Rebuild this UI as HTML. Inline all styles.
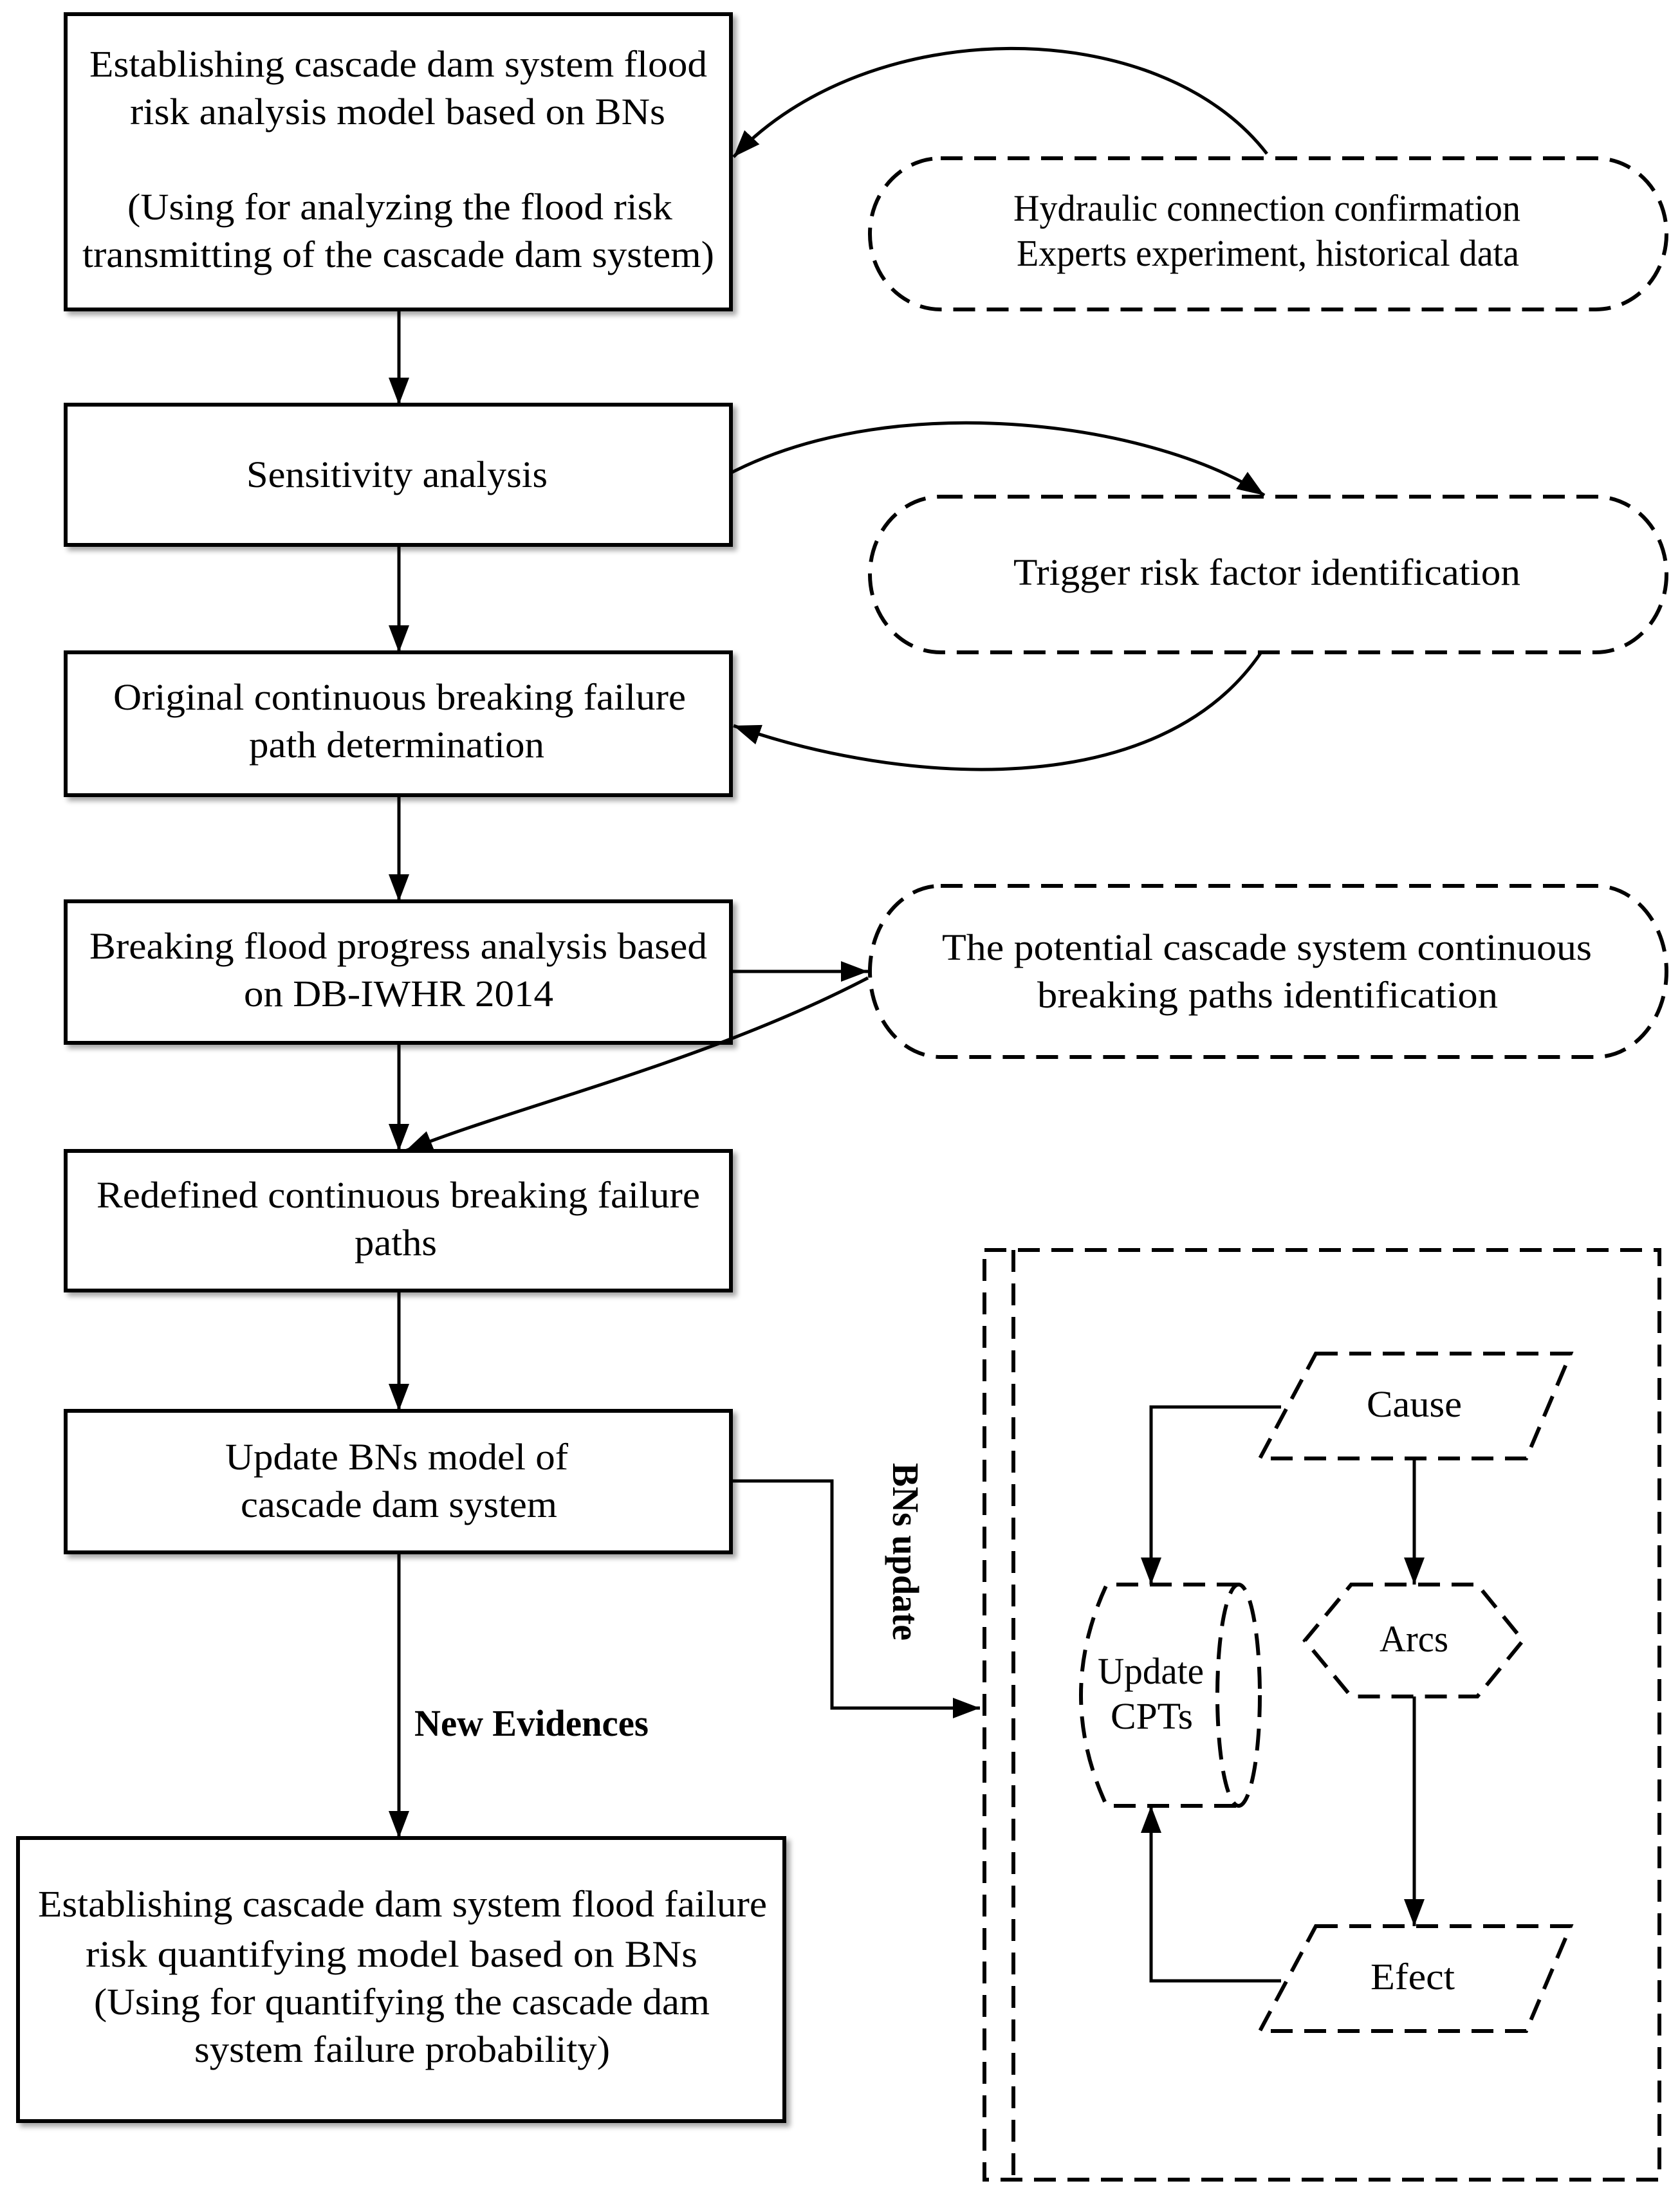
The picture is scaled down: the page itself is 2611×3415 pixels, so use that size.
<!DOCTYPE html>
<html><head><meta charset="utf-8"><style>
html,body{margin:0;padding:0;background:#fff;}
svg{display:block;}
text{font-family:"Liberation Serif",serif;font-size:58px;fill:#000;}
</style></head><body>
<svg width="2611" height="3415" viewBox="0 0 2611 3415" xmlns="http://www.w3.org/2000/svg">
<defs>
<marker id="ah" viewBox="0 0 10 10" refX="10" refY="5" markerWidth="42" markerHeight="32" orient="auto" markerUnits="userSpaceOnUse" preserveAspectRatio="none"><path d="M0,0 L10,5 L0,10 z" fill="#000"/></marker>
<filter id="sh" x="-5%" y="-5%" width="110%" height="110%"><feGaussianBlur in="SourceAlpha" stdDeviation="4"/><feOffset dx="6" dy="6"/><feComponentTransfer><feFuncA type="linear" slope="0.35"/></feComponentTransfer><feMerge><feMergeNode/><feMergeNode in="SourceGraphic"/></feMerge></filter>
</defs>
<g fill="#fff" stroke="#000" stroke-width="6" filter="url(#sh)">
<rect x="102" y="22" width="1034" height="459"/>
<rect x="102" y="629" width="1034" height="218"/>
<rect x="102" y="1014" width="1034" height="222"/>
<rect x="102" y="1401" width="1034" height="220"/>
<rect x="102" y="1789" width="1034" height="217"/>
<rect x="102" y="2193" width="1034" height="220"/>
<rect x="28" y="2857" width="1191" height="440"/>
</g>
<g fill="none" stroke="#000" stroke-width="6" stroke-dasharray="34,18">
<rect x="1352" y="246" width="1238" height="235" rx="110" ry="117"/>
<rect x="1352" y="772" width="1238" height="242" rx="110" ry="121"/>
<rect x="1352" y="1377" width="1238" height="266" rx="110" ry="133"/>
<rect x="1530" y="1943" width="1049" height="1445"/>
<line x1="1575" y1="1943" x2="1575" y2="3388"/>
<polygon points="2045,2104 2441,2104 2372,2267 1958,2267"/>
<polygon points="2045,2994 2441,2994 2372,3157 1958,3157"/>
<polygon points="2100,2463 2296,2463 2367,2550 2296,2637 2100,2637 2028,2550"/>
<path d="M1925,2463 L1720,2463 Q1640,2635 1720,2807 L1925,2807"/>
<ellipse cx="1925" cy="2635" rx="33" ry="172"/>
</g>
<g fill="none" stroke="#000" stroke-width="5" marker-end="url(#ah)">
<line x1="620" y1="481" x2="620" y2="629"/>
<line x1="620" y1="847" x2="620" y2="1014"/>
<line x1="620" y1="1236" x2="620" y2="1401"/>
<line x1="620" y1="1621" x2="620" y2="1789"/>
<line x1="620" y1="2006" x2="620" y2="2193"/>
<line x1="620" y1="2413" x2="620" y2="2857"/>
<path d="M1969,239 C1800,20 1350,20 1140,244"/>
<path d="M1136,735 C1400,600 1800,660 1965,770"/>
<path d="M1960,1014 C1800,1250 1400,1220 1140,1128"/>
<line x1="1136" y1="1510" x2="1349" y2="1510"/>
<path d="M1349,1520 C1100,1650 800,1720 630,1789"/>
<path d="M1136,2302 L1293,2302 L1293,2655 L1523,2655"/>
<line x1="2198" y1="2267" x2="2198" y2="2463"/>
<line x1="2198" y1="2637" x2="2198" y2="2994"/>
<path d="M1991,2187 L1789,2187 L1789,2463"/>
<path d="M1991,3079 L1789,3079 L1789,2807"/>
</g>
<g>
<text x="139" y="119" textLength="960" lengthAdjust="spacingAndGlyphs">Establishing cascade dam system flood</text>
<text x="202" y="193" textLength="832" lengthAdjust="spacingAndGlyphs">risk analysis model based on BNs</text>
<text x="198" y="341" textLength="847" lengthAdjust="spacingAndGlyphs">(Using for analyzing the flood risk</text>
<text x="128" y="415" textLength="982" lengthAdjust="spacingAndGlyphs">transmitting of the cascade dam system)</text>
<text x="383" y="757" textLength="468" lengthAdjust="spacingAndGlyphs">Sensitivity analysis</text>
<text x="176" y="1103" textLength="890" lengthAdjust="spacingAndGlyphs">Original continuous breaking failure</text>
<text x="387" y="1177" textLength="459" lengthAdjust="spacingAndGlyphs">path determination</text>
<text x="139" y="1490" textLength="960" lengthAdjust="spacingAndGlyphs">Breaking flood progress analysis based</text>
<text x="379" y="1564" textLength="481" lengthAdjust="spacingAndGlyphs">on DB-IWHR 2014</text>
<text x="150" y="1877" textLength="938" lengthAdjust="spacingAndGlyphs">Redefined continuous breaking failure</text>
<text x="551" y="1951" textLength="128" lengthAdjust="spacingAndGlyphs">paths</text>
<text x="350" y="2284" textLength="533" lengthAdjust="spacingAndGlyphs">Update BNs model of</text>
<text x="374" y="2358" textLength="492" lengthAdjust="spacingAndGlyphs">cascade dam system</text>
<text x="59" y="2979" textLength="1133" lengthAdjust="spacingAndGlyphs">Establishing cascade dam system flood failure</text>
<text x="133" y="3057" textLength="951" lengthAdjust="spacingAndGlyphs">risk quantifying model based on BNs</text>
<text x="146" y="3131" textLength="957" lengthAdjust="spacingAndGlyphs">(Using for quantifying the cascade dam</text>
<text x="302" y="3205" textLength="646" lengthAdjust="spacingAndGlyphs">system failure probability)</text>
<text x="1575" y="343" textLength="788" lengthAdjust="spacingAndGlyphs">Hydraulic connection confirmation</text>
<text x="1580" y="413" textLength="781" lengthAdjust="spacingAndGlyphs">Experts experiment, historical data</text>
<text x="1575" y="909" textLength="788" lengthAdjust="spacingAndGlyphs">Trigger risk factor identification</text>
<text x="1464" y="1492" textLength="1010" lengthAdjust="spacingAndGlyphs">The potential  cascade system continuous</text>
<text x="1612" y="1566" textLength="716" lengthAdjust="spacingAndGlyphs">breaking  paths identification</text>
<text x="644" y="2698" textLength="364" lengthAdjust="spacingAndGlyphs" font-weight="bold">New Evidences</text>
<text transform="translate(1388,2274) rotate(90)" x="0" y="0" textLength="276" lengthAdjust="spacingAndGlyphs" font-weight="bold">BNs update</text>
<text x="2124" y="2202" textLength="148" lengthAdjust="spacingAndGlyphs">Cause</text>
<text x="2144" y="2567" textLength="107" lengthAdjust="spacingAndGlyphs">Arcs</text>
<text x="2130" y="3092" textLength="131" lengthAdjust="spacingAndGlyphs">Efect</text>
<text x="1706" y="2617" textLength="165" lengthAdjust="spacingAndGlyphs">Update</text>
<text x="1726" y="2687" textLength="128" lengthAdjust="spacingAndGlyphs">CPTs</text>
</g>
</svg>
</body></html>
